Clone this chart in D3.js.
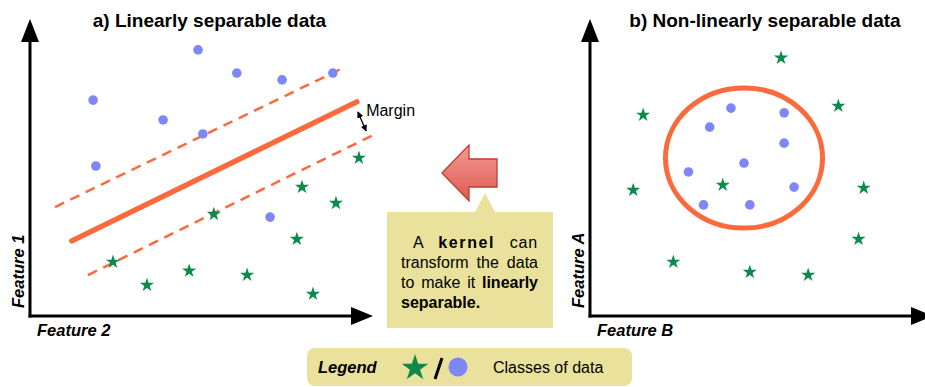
<!DOCTYPE html>
<html>
<head>
<meta charset="utf-8">
<script src="https://cdn.jsdelivr.net/npm/d3@7"></script>
<style>
  body { margin: 0; background: #fff; }
  text { font-family: "Liberation Sans", Arial, Helvetica, sans-serif; fill: #000; }
</style>
</head>
<body>
<svg id="chart" width="925" height="387"></svg>
<script>
// Panel a: linearly separable data (feature units 0..10)
const linDots = [
  [4.90, 8.96], [6.03, 8.18], [7.35, 7.95], [8.83, 8.18], [1.84, 7.27],
  [3.88, 6.60], [5.04, 6.13], [1.92, 5.05], [7.00, 3.33]
];
const linStars = [
  [9.59, 5.32], [7.93, 4.34], [8.92, 3.80], [5.36, 3.43], [7.78, 2.59],
  [2.42, 1.82], [4.64, 1.52], [6.33, 1.38], [3.41, 1.04], [8.25, 0.74]
];
const hyperplane = [[1.22, 2.53], [9.53, 7.21]];
const marginUp = [[0.73, 3.67], [9.07, 8.32]];
const marginDown = [[1.69, 1.38], [10.0, 6.09]];
const marginArrow = [[9.56, 6.87], [9.80, 6.23]];

// Panel b: non-linearly separable data
const ringDots = [
  [4.11, 7.00], [5.66, 6.84], [3.49, 6.36], [5.66, 5.82], [4.49, 5.15],
  [2.87, 4.85], [5.95, 4.34], [3.31, 3.74], [4.66, 3.74]
];
const ringStars = [
  [5.57, 8.69], [7.24, 7.07], [1.55, 6.77], [1.26, 4.24], [3.87, 4.41],
  [7.98, 4.31], [7.83, 2.59], [2.43, 1.82], [4.66, 1.48], [6.36, 1.38]
];
const boundary = { cx: 4.49, cy: 5.32, rx: 2.29, ry: 2.36 };

const titles = ["a) Linearly separable data", "b) Non-linearly separable data"];
const axisNames = [["Feature 2", "Feature 1"], ["Feature B", "Feature A"]];

const blue = "#7f87f6";
const green = "#0c8a4c";
const orange = "#fb6a3d";
const sand = "#e9e19c";

const svg = d3.select("#chart");

const defs = svg.append("defs");
defs.append("marker")
  .attr("id", "tip")
  .attr("viewBox", "0 0 10 10")
  .attr("refX", 9).attr("refY", 5)
  .attr("markerWidth", 5).attr("markerHeight", 5)
  .attr("orient", "auto-start-reverse")
  .append("path")
  .attr("d", "M0,0 L10,5 L0,10 z")
  .attr("fill", "#000");

let grad = defs.append("linearGradient")
  .attr("id", "redgrad")
  .attr("x1", 0).attr("y1", 0).attr("x2", 0).attr("y2", 1);
grad.append("stop").attr("offset", "0%").attr("stop-color", "#f49a94");
grad.append("stop").attr("offset", "100%").attr("stop-color", "#dc5a52");

const star = (s) => d3.symbol(d3.symbolStar, s)();

function panel(x0, x1, i, tx) {
  let x = d3.scaleLinear([0, 10], [x0, x1]);
  let y = d3.scaleLinear([0, 10], [316, 19]);
  let g = svg.append("g");

  // axes with arrowheads
  g.append("line")
    .attr("x1", x(0)).attr("y1", y(0) + 1.5)
    .attr("x2", x(0)).attr("y2", y(10) + 22)
    .attr("stroke", "#000").attr("stroke-width", 3);
  g.append("path")
    .attr("d", `M${x(0) - 9},${y(10) + 23} L${x(0) + 9},${y(10) + 23} L${x(0)},${y(10)} z`)
    .attr("fill", "#000");
  g.append("line")
    .attr("x1", x(0) - 1.5).attr("y1", y(0))
    .attr("x2", x(10) - 21).attr("y2", y(0))
    .attr("stroke", "#000").attr("stroke-width", 3);
  g.append("path")
    .attr("d", `M${x(10) - 22},${y(0) - 9} L${x(10) - 22},${y(0) + 9} L${x(10)},${y(0)} z`)
    .attr("fill", "#000");

  g.append("text")
    .attr("x", tx).attr("y", 27)
    .attr("text-anchor", "middle")
    .attr("font-size", 19).attr("font-weight", "bold")
    .text(titles[i]);

  g.append("text")
    .attr("x", x(0) + 7).attr("y", 336)
    .attr("font-size", 16.5).attr("font-weight", "bold").attr("font-style", "italic")
    .text(axisNames[i][0]);
  g.append("text")
    .attr("transform", `translate(${x(0) - 6},${308}) rotate(-90)`)
    .attr("font-size", 16.5).attr("font-weight", "bold").attr("font-style", "italic")
    .text(axisNames[i][1]);

  return { g, x, y };
}

function marks(p, dots, stars) {
  p.g.append("g")
    .selectAll("circle")
    .data(dots)
    .join("circle")
    .attr("cx", (d) => p.x(d[0]))
    .attr("cy", (d) => p.y(d[1]))
    .attr("r", 4.8)
    .attr("fill", blue);
  p.g.append("g")
    .selectAll("path")
    .data(stars)
    .join("path")
    .attr("d", star(62))
    .attr("transform", (d) => `translate(${p.x(d[0])},${p.y(d[1])})`)
    .attr("fill", green);
}

// a) linear
let pa = panel(30, 373, 0, 209.5);
let line = d3.line().x((d) => pa.x(d[0])).y((d) => pa.y(d[1]));
pa.g.append("path").attr("d", line(marginUp))
  .attr("stroke", orange).attr("stroke-width", 2.5).attr("fill", "none")
  .attr("stroke-dasharray", "10,7");
pa.g.append("path").attr("d", line(marginDown))
  .attr("stroke", orange).attr("stroke-width", 2.5).attr("fill", "none")
  .attr("stroke-dasharray", "10,7");
pa.g.append("path").attr("d", line(hyperplane))
  .attr("stroke", orange).attr("stroke-width", 5.5).attr("fill", "none")
  .attr("stroke-linecap", "round");
marks(pa, linDots, linStars);
pa.g.append("path").attr("d", line(marginArrow))
  .attr("stroke", "#000").attr("stroke-width", 1.3)
  .attr("marker-start", "url(#tip)").attr("marker-end", "url(#tip)");
pa.g.append("text")
  .attr("x", pa.x(9.8)).attr("y", pa.y(6.95) + 6)
  .attr("font-size", 16)
  .text("Margin");

// b) non-linear
let pb = panel(590, 933, 1, 765);
pb.g.append("ellipse")
  .attr("cx", pb.x(boundary.cx)).attr("cy", pb.y(boundary.cy))
  .attr("rx", pb.x(boundary.rx) - pb.x(0))
  .attr("ry", pb.y(0) - pb.y(boundary.ry))
  .attr("fill", "none").attr("stroke", orange).attr("stroke-width", 5);
marks(pb, ringDots, ringStars);

// kernel arrow
svg.append("path")
  .attr("d", "M442,173 L469,145 L469,159 L497,159 L497,187 L469,187 L469,201 Z")
  .attr("fill", "url(#redgrad)").attr("stroke", "#c23a30").attr("stroke-width", 1.3)
  .attr("stroke-linejoin", "miter");

// callout
svg.append("path")
  .attr("d", "M387,212 L475,212 L485,193 L495,212 L553,212 L553,328 L387,328 Z")
  .attr("fill", sand);

const callout = [
  { x0: 413, x1: 538, words: [["A", false, 0], ["kernel", true, 1.6], ["can", false, 0.8]] },
  { x0: 401, x1: 538, words: [["transform", false, 0], ["the", false, 0], ["data", false, 0]] },
  { x0: 401, x1: 538, words: [["to", false, 0], ["make", false, 0], ["it", false, 0], ["linearly", true, 0]] },
  { x0: 401, x1: null, words: [["separable.", true, 0]] }
];
callout.forEach((ln, li) => {
  let row = svg.append("g");
  let ts = ln.words.map((w) =>
    row.append("text")
      .attr("y", 248 + li * 20)
      .attr("font-size", 16)
      .attr("font-weight", w[1] ? "bold" : "normal")
      .attr("letter-spacing", w[2])
      .text(w[0])
  );
  let widths = ts.map((t) => t.node().getComputedTextLength());
  let gap = ln.x1 == null ? 4 : (ln.x1 - ln.x0 - d3.sum(widths)) / Math.max(1, ts.length - 1);
  let cx = ln.x0;
  ts.forEach((t, k) => {
    t.attr("x", cx);
    cx += widths[k] + gap;
  });
});

// legend
let leg = svg.append("g");
leg.append("rect")
  .attr("x", 307).attr("y", 348).attr("width", 325).attr("height", 38)
  .attr("rx", 8).attr("fill", sand);
leg.append("text")
  .attr("x", 318).attr("y", 373)
  .attr("font-size", 16.5).attr("font-weight", "bold").attr("font-style", "italic")
  .text("Legend");
leg.append("path")
  .attr("d", star(220))
  .attr("transform", "translate(415,368)")
  .attr("fill", green);
leg.append("line")
  .attr("x1", 435).attr("y1", 379).attr("x2", 442).attr("y2", 358)
  .attr("stroke", "#000").attr("stroke-width", 3);
leg.append("circle")
  .attr("cx", 458).attr("cy", 367).attr("r", 9.5)
  .attr("fill", blue);
leg.append("text")
  .attr("x", 493).attr("y", 373)
  .attr("font-size", 16)
  .text("Classes of data");
</script>
</body>
</html>
